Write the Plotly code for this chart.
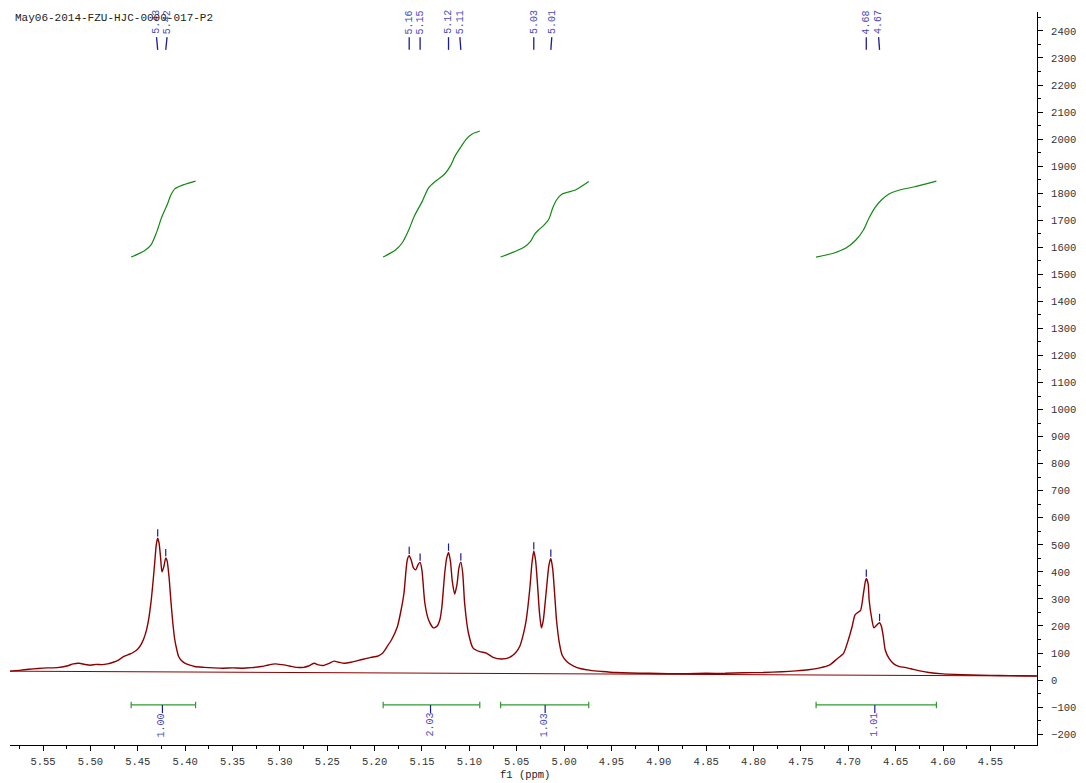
import plotly.graph_objects as go

# ---------------- data ----------------
title_text = "May06-2014-FZU-HJC-0000-017-P2"

spec_ppm = [5.585, 5.575, 5.565, 5.555, 5.545, 5.535, 5.525, 5.518, 5.512, 5.506, 5.500, 5.494, 5.488,
            5.482, 5.476, 5.470, 5.466, 5.460, 5.455, 5.450, 5.446, 5.442, 5.439, 5.436, 5.434, 5.432,
            5.4305, 5.429, 5.4275, 5.426, 5.4245, 5.4225, 5.4205, 5.419, 5.417, 5.415, 5.413, 5.411,
            5.409, 5.407, 5.404, 5.400, 5.395, 5.390, 5.380, 5.370, 5.360, 5.350, 5.340, 5.330, 5.320,
            5.312, 5.305, 5.298, 5.290, 5.282, 5.275, 5.270, 5.264, 5.259, 5.254, 5.248, 5.243, 5.238,
            5.232, 5.225, 5.218, 5.211, 5.204, 5.197, 5.192, 5.187, 5.182, 5.176, 5.172, 5.169, 5.167,
            5.1655, 5.1635, 5.1615, 5.159, 5.1565, 5.154, 5.152, 5.150, 5.147, 5.143, 5.138, 5.134,
            5.131, 5.129, 5.126, 5.124, 5.122, 5.120, 5.118, 5.1155, 5.113, 5.111, 5.109, 5.107, 5.105,
            5.101, 5.096, 5.089, 5.082, 5.075, 5.066, 5.058, 5.052, 5.047, 5.043, 5.040, 5.036, 5.034,
            5.032, 5.030, 5.028, 5.026, 5.024, 5.022, 5.019, 5.016, 5.014, 5.012, 5.010, 5.008, 5.005,
            5.002, 4.997, 4.990, 4.982, 4.972, 4.960, 4.945, 4.930, 4.910, 4.890, 4.870, 4.850, 4.830,
            4.810, 4.790, 4.770, 4.755, 4.742, 4.730, 4.720, 4.712, 4.705, 4.700, 4.696, 4.693, 4.690,
            4.687, 4.684, 4.682, 4.681, 4.679, 4.678, 4.675, 4.673, 4.670, 4.667, 4.665, 4.663, 4.661,
            4.657, 4.652, 4.646, 4.640, 4.634, 4.626, 4.615, 4.600, 4.580, 4.560, 4.540, 4.520, 4.501]
spec_int = [33, 36, 40, 43, 45, 46, 52, 60, 62, 58, 55, 58, 57,
            60, 66, 75, 85, 94, 102, 115, 135, 170, 215, 290, 360, 440,
            500, 525, 505, 455, 400, 420, 452, 440, 380, 290, 210, 150,
            115, 88, 72, 62, 55, 50, 47, 45, 44, 45, 44, 46, 50,
            56, 60, 57, 52, 47, 47, 52, 62, 56, 54, 62, 70, 66,
            62, 66, 72, 78, 84, 88, 98, 123, 150, 197, 260, 322, 400,
            445, 460, 445, 415, 408, 428, 435, 405, 285, 222, 193, 200,
            225, 271, 396, 450, 472, 440, 365, 318, 355, 415, 436, 395, 285,
            174, 118, 105, 100, 84, 78, 83, 98, 123, 170, 222, 345, 430,
            477, 440, 350, 250, 193, 220, 322, 425, 450, 410, 320, 222, 137,
            92, 68, 52, 42, 36, 32, 28, 26, 25, 24, 24, 25, 25,
            27, 28, 31, 34, 38, 45, 55, 78, 99, 148, 197, 240, 250,
            258, 320, 365, 376, 355, 296, 222, 193, 203, 212, 198, 160, 111,
            80, 60, 50, 47, 42, 35, 28, 23, 20, 18, 17, 16, 15]

baseline_ppm = [5.585, 4.501]
baseline_int = [33, 15]

integ1_ppm = [5.457, 5.443, 5.436, 5.430, 5.425, 5.419, 5.415, 5.411, 5.402, 5.389]
integ1_val = [1564, 1587, 1609, 1657, 1709, 1757, 1794, 1816, 1831, 1845]
integ2_ppm = [5.191, 5.178, 5.171, 5.164, 5.158, 5.150, 5.143, 5.134, 5.126, 5.120, 5.115,
              5.109, 5.103, 5.097, 5.089]
integ2_val = [1564, 1590, 1616, 1664, 1716, 1768, 1820, 1849, 1871, 1901, 1938,
              1971, 2001, 2019, 2030]
integ3_ppm = [5.067, 5.053, 5.042, 5.035, 5.031, 5.027, 5.021, 5.016, 5.012, 5.008, 5.002,
              4.988, 4.974]
integ3_val = [1564, 1583, 1601, 1624, 1649, 1664, 1683, 1705, 1746, 1775, 1797,
              1812, 1843]
integ4_ppm = [4.734, 4.715, 4.702, 4.692, 4.684, 4.678, 4.672, 4.665, 4.657, 4.646, 4.631, 4.607]
integ4_val = [1564, 1579, 1598, 1627, 1664, 1709, 1746, 1775, 1797, 1812, 1823, 1845]

integ_from = [5.457, 5.191, 5.067, 4.734]
integ_to = [5.389, 5.089, 4.974, 4.607]
integ_center = [5.424, 5.141, 5.020, 4.672]
integ_labels = ["1.00", "2.03", "1.03", "1.01"]

peak_ppm = [5.429, 5.4205, 5.1635, 5.152, 5.122, 5.109, 5.032, 5.014, 4.681, 4.667]
peak_height = [525, 452, 460, 435, 472, 436, 477, 450, 376, 212]
peak_label_ppm = [5.4302, 5.4191, 5.1635, 5.152, 5.122, 5.110, 5.032, 5.013, 4.681, 4.668]
peak_labels = ["5.43", "5.42", "5.16", "5.15", "5.12", "5.11", "5.03", "5.01", "4.68", "4.67"]

x_tick_labels = ["5.55", "5.50", "5.45", "5.40", "5.35", "5.30", "5.25", "5.20", "5.15", "5.10",
                 "5.05", "5.00", "4.95", "4.90", "4.85", "4.80", "4.75", "4.70", "4.65", "4.60", "4.55"]
y_tick_vals = list(range(-200, 2401, 100))

# ---------------- styling ----------------
FONT = "Liberation Mono"
SPEC_COLOR = "#8b0000"
INT_COLOR = "#118811"
BAR_COLOR = "#2e9a2e"
LABEL_COLOR = "#4a4ab8"
LINE_BLUE = "#1c1c96"

fig = go.Figure()

# baseline
fig.add_trace(go.Scatter(x=baseline_ppm, y=baseline_int, mode="lines",
                         line=dict(color=SPEC_COLOR, width=1), hoverinfo="skip"))
# spectrum
fig.add_trace(go.Scatter(x=spec_ppm, y=spec_int, mode="lines",
                         line=dict(color=SPEC_COLOR, width=1.4, shape="spline", smoothing=0.6),
                         hoverinfo="skip"))

# integral curves
for xs, ys in [(integ1_ppm, integ1_val), (integ2_ppm, integ2_val),
               (integ3_ppm, integ3_val), (integ4_ppm, integ4_val)]:
    fig.add_trace(go.Scatter(x=xs, y=ys, mode="lines",
                             line=dict(color=INT_COLOR, width=1.2, shape="spline", smoothing=0.8),
                             hoverinfo="skip"))

# integration bars
BAR_Y = -92
CAP = 12
bx, by = [], []
for a, b in zip(integ_from, integ_to):
    bx += [a, b, None, a, a, None, b, b, None]
    by += [BAR_Y, BAR_Y, None, BAR_Y - CAP, BAR_Y + CAP, None, BAR_Y - CAP, BAR_Y + CAP, None]
fig.add_trace(go.Scatter(x=bx, y=by, mode="lines", line=dict(color=BAR_COLOR, width=1.2),
                         hoverinfo="skip"))
cx, cy = [], []
for c in integ_center:
    cx += [c, c, None]
    cy += [BAR_Y, BAR_Y - 30, None]
fig.add_trace(go.Scatter(x=cx, y=cy, mode="lines", line=dict(color=LINE_BLUE, width=1.2),
                         hoverinfo="skip"))

# peak top markers
mx, my = [], []
for p, h in zip(peak_ppm, peak_height):
    mx += [p, p, None]
    my += [h + 6, h + 33, None]
fig.add_trace(go.Scatter(x=mx, y=my, mode="lines", line=dict(color=LINE_BLUE, width=1.2),
                         hoverinfo="skip"))

# peak label leader lines
lx, ly = [], []
for lp, p in zip(peak_label_ppm, peak_ppm):
    lx += [lp, p, None]
    ly += [2377, 2330, None]
fig.add_trace(go.Scatter(x=lx, y=ly, mode="lines", line=dict(color=LINE_BLUE, width=1.3),
                         hoverinfo="skip"))

annotations = []
for lp, t in zip(peak_label_ppm, peak_labels):
    annotations.append(dict(x=lp, y=2432, xref="x", yref="y", text=t, showarrow=False,
                            textangle=-90, xanchor="center", yanchor="middle",
                            font=dict(family=FONT, size=10, color=LABEL_COLOR)))
for c, t in zip(integ_center, integ_labels):
    annotations.append(dict(x=c, y=-166, xref="x", yref="y", text=t, showarrow=False,
                            textangle=-90, xanchor="center", yanchor="middle",
                            font=dict(family=FONT, size=10, color=LABEL_COLOR)))
annotations.append(dict(x=0.003, y=0.992, xref="paper", yref="paper", text=title_text,
                        showarrow=False, xanchor="left", yanchor="middle",
                        font=dict(family=FONT, size=11, color="#222222")))
annotations.append(dict(x=0.501, y=-0.041, xref="paper", yref="paper", text="f1 (ppm)",
                        showarrow=False, xanchor="center", yanchor="middle",
                        font=dict(family=FONT, size=10.5, color="#222222")))

fig.update_layout(
    width=1086, height=783,
    autosize=False,
    margin=dict(l=10, r=41, t=12, b=38),
    paper_bgcolor="white", plot_bgcolor="white",
    showlegend=False,
    annotations=annotations,
    xaxis=dict(
        range=[5.5849, 4.5008],
        tickvals=[float(s) for s in x_tick_labels],
        ticktext=x_tick_labels,
        ticks="outside", ticklen=5, tickwidth=1, tickcolor="black",
        showline=True, linecolor="black", linewidth=1,
        showgrid=False, zeroline=False,
        minor=dict(dtick=0.025, tick0=5.55, ticks="outside", ticklen=3, tickcolor="black",
                   showgrid=False),
        tickfont=dict(family=FONT, size=10.5, color="#333333"),
        ticklabelstandoff=1,
    ),
    yaxis=dict(
        range=[-240, 2470],
        side="right",
        tickvals=y_tick_vals,
        ticks="outside", ticklen=5, tickwidth=1, tickcolor="black",
        showline=True, linecolor="black", linewidth=1,
        showgrid=False, zeroline=False,
        minor=dict(dtick=50, tick0=0, ticks="outside", ticklen=3, tickcolor="black",
                   showgrid=False),
        tickfont=dict(family=FONT, size=10.5, color="#333333"),
        ticklabelstandoff=6,
    ),
)

# fixed-size figure placed at the very top-left of the page, no scrollbars, no modebar
fig.write_html("out.html",
               config={"responsive": False, "displayModeBar": False},
               post_script="document.documentElement.style.overflow='hidden';"
                           "document.body.style.margin='0';document.body.style.overflow='hidden';")
